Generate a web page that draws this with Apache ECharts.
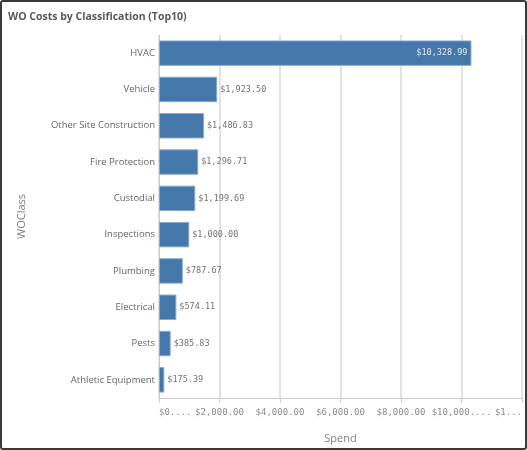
<!DOCTYPE html>
<html>
<head>
<meta charset="utf-8">
<script src="https://cdn.jsdelivr.net/npm/echarts@6/dist/echarts.min.js"></script>
<style>
  html, body { margin: 0; padding: 0; background: #fff; }
  #wrap {
    position: absolute; left: 0; top: 0; width: 523px; height: 446px;
    border: 2px solid #3a3a3a; border-radius: 3px; background: #fff;
  }
  #chart { width: 523px; height: 446px; }
</style>
</head>
<body>
<div id="wrap"><div id="chart"></div></div>
<script>
let categories = ["HVAC", "Vehicle", "Other Site Construction", "Fire Protection", "Custodial",
    "Inspections", "Plumbing", "Electrical", "Pests", "Athletic Equipment"];
let spend = [10328.99, 1923.50, 1486.83, 1296.71, 1199.69, 1000.00, 787.67, 574.11, 385.83, 175.39];
let tickLabels = ["$0....", "$2,000.00", "$4,000.00", "$6,000.00", "$8,000.00", "$10,000....", "$1..."];

let chart = echarts.init(document.getElementById("chart"));

function money(v) {
    return "$" + v.toLocaleString("en-US", { minimumFractionDigits: 2, maximumFractionDigits: 2 });
}

let option = {
    animation: false,
    title: {
        text: "WO Costs by Classification (Top10)",
        left: 6, top: 10, padding: 0,
        textStyle: { fontFamily: "Open Sans", fontSize: 10.5, fontWeight: "bold", color: "#595959" }
    },
    grid: { left: 157, right: 3, top: 33, bottom: 50, containLabel: false, outerBoundsMode: "none" },
    xAxis: {
        type: "value",
        min: 0, max: 12000, interval: 2000,
        name: "Spend",
        nameLocation: "middle",
        nameGap: 35,
        nameTextStyle: { fontFamily: "Open Sans", fontSize: 11, color: "#7f7f7f" },
        axisLine: { show: true, lineStyle: { color: "#cccccc" } },
        axisTick: { show: true, length: 5, lineStyle: { color: "#cccccc" } },
        splitLine: { show: true, lineStyle: { color: "#d9d9d9", width: 1.5 } },
        axisLabel: {
            fontFamily: "DejaVu Sans Mono", fontSize: 9, color: "#8c8c8c", margin: 10,
            alignMinLabel: "left", alignMaxLabel: "right",
            formatter: v => tickLabels[Math.round(v / 2000)]
        }
    },
    yAxis: {
        type: "category",
        data: categories,
        inverse: true,
        name: "WOClass",
        nameLocation: "middle",
        nameRotate: 90,
        nameGap: 132,
        nameTextStyle: { fontFamily: "Open Sans", fontSize: 11, color: "#7f7f7f" },
        axisLine: { show: true, lineStyle: { color: "#cccccc" } },
        axisTick: { show: false },
        axisLabel: { fontFamily: "Open Sans", fontSize: 9.5, color: "#666666", margin: 4 }
    },
    series: [{
        type: "bar",
        data: spend.map((v, i) => ({
            value: v,
            label: i === 0
                ? { show: true, position: "insideRight", color: "#e8eef5", distance: 4 }
                : { show: true, position: "right", color: "#737373", distance: 3 }
        })),
        barCategoryGap: "30%",
        itemStyle: { color: "#4477aa", borderColor: "#8aaacb", borderWidth: 1 },
        label: {
            fontFamily: "DejaVu Sans Mono", fontSize: 8.5,
            formatter: p => money(p.value)
        }
    }]
};
chart.setOption(option);
</script>
</body>
</html>
